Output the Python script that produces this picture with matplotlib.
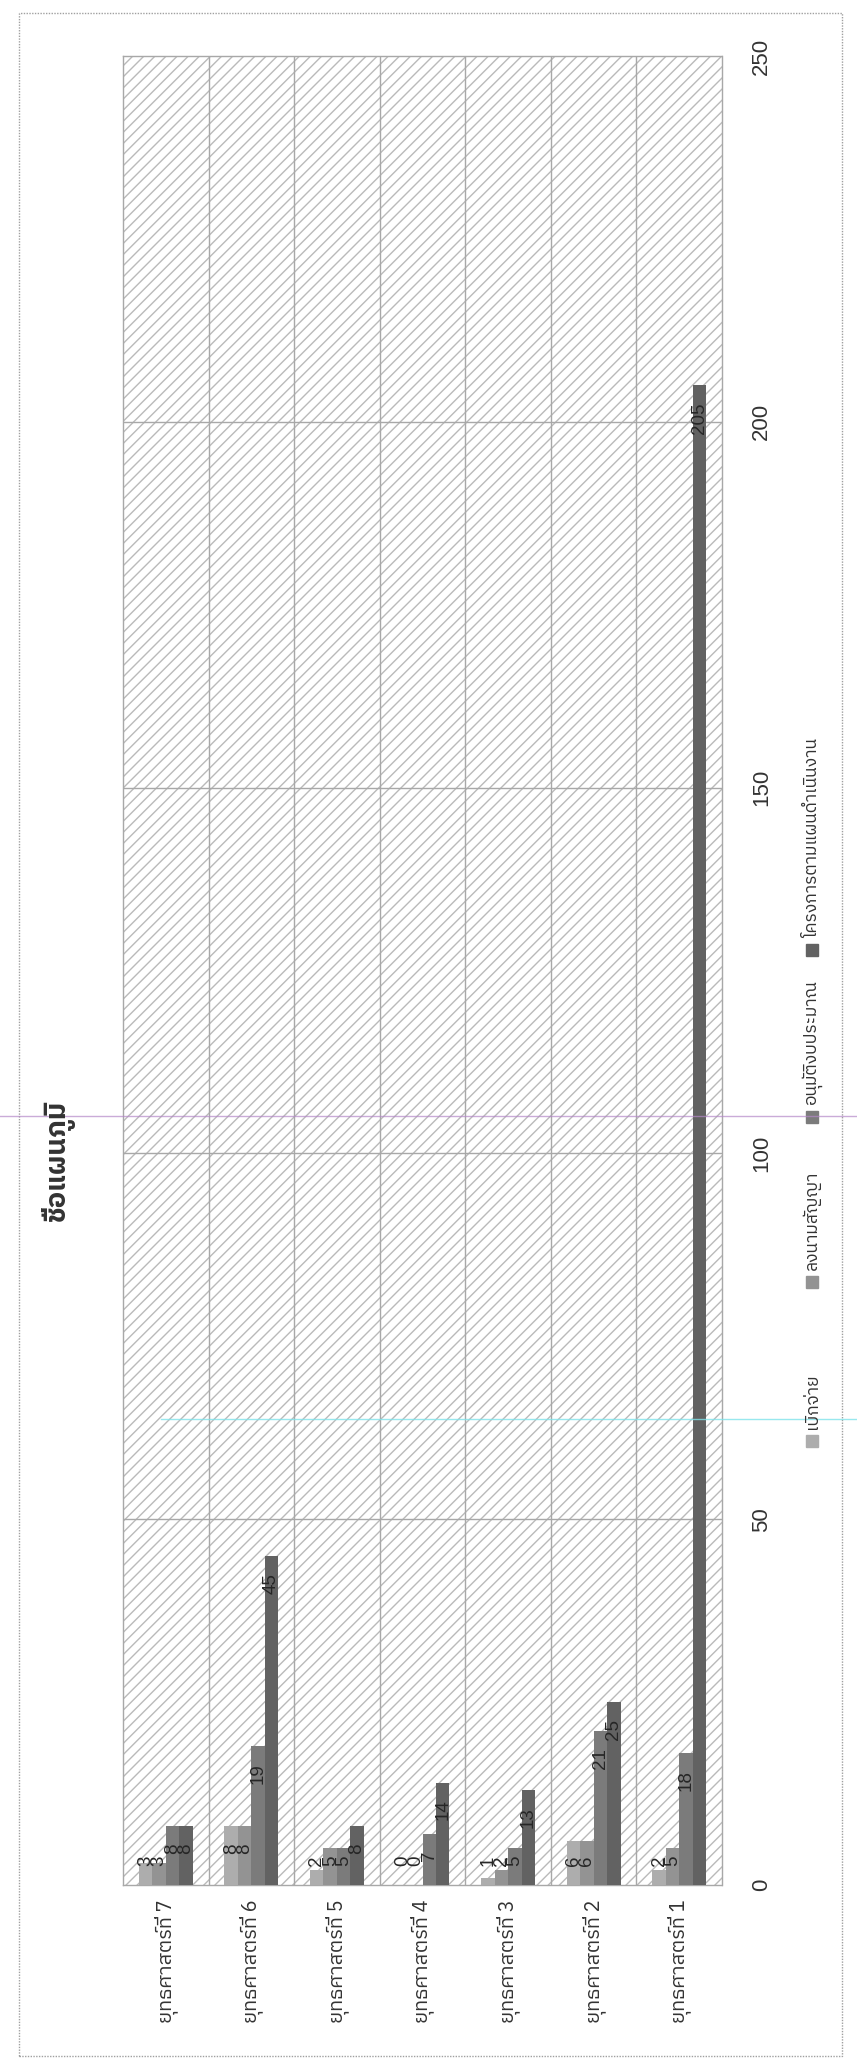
import matplotlib
matplotlib.use("Agg")
import matplotlib.pyplot as plt
import numpy as np
from matplotlib import font_manager as fm
from matplotlib.ft2font import FT2Font
from matplotlib.patches import Rectangle
from matplotlib.lines import Line2D

# data
categories = ["ยุทธศาสตร์ที่ 1", "ยุทธศาสตร์ที่ 2", "ยุทธศาสตร์ที่ 3", "ยุทธศาสตร์ที่ 4",
              "ยุทธศาสตร์ที่ 5", "ยุทธศาสตร์ที่ 6", "ยุทธศาสตร์ที่ 7"]
series_names = ["เบิกจ่าย", "ลงนามสัญญา", "อนุมัติงบประมาณ", "โครงการตามแผนดำเนินงาน"]
disbursed = [2, 6, 1, 0, 2, 8, 3]
signed = [5, 6, 2, 0, 5, 8, 3]
approved = [18, 21, 5, 7, 5, 19, 8]
planned = [205, 25, 13, 14, 8, 45, 8]
value_ticks = [0, 50, 100, 150, 200, 250]
title = "ชื่อแผนภูมิ"

bar_colors = ["#adadad", "#939393", "#7b7b7b", "#626262"]


def find_thai_family():
    found = []
    for f in fm.fontManager.ttflist:
        try:
            cmap = FT2Font(f.fname).get_charmap()
        except Exception:
            continue
        if 0x0E01 in cmap and 0x0E38 in cmap:
            found.append(f.name)
    for name in found:
        if "Thai" in name:
            return name
    return found[0] if found else None


thai = find_thai_family()
thai_fam = [thai, "DejaVu Sans"] if thai else ["DejaVu Sans"]
num_fam = ["Liberation Sans Narrow", "Liberation Sans", "DejaVu Sans"]

W, H = 857, 2064


def fx(px):
    return px / W


def fy(py):
    return 1 - py / H


plt.rcParams["hatch.linewidth"] = 1.0
fig = plt.figure(figsize=(W / 100, H / 100), dpi=100)

# chart area border
fig.add_artist(Rectangle((fx(19), fy(2056)), fx(842) - fx(19), fy(13) - fy(2056),
                         transform=fig.transFigure, fill=False, ec="#a0a0a0",
                         lw=1, ls=(0, (1, 1))))

ax_left, ax_right, ax_top, ax_bottom = 123, 722, 56, 1885
ax = fig.add_axes([fx(ax_left), fy(ax_bottom), fx(ax_right) - fx(ax_left),
                   fy(ax_top) - fy(ax_bottom)])
ax.set_facecolor("white")
ax.add_patch(Rectangle((0, 0), 1, 1, transform=ax.transAxes, facecolor="white",
                       hatch="///", edgecolor="#bababa", lw=0, zorder=0))

n = len(categories)
x = np.arange(n)
order = list(range(n))[::-1]          # category 7 on the left, 1 on the right
all_series = [disbursed, signed, approved, planned]
bw = 0.157
offsets = (np.arange(4) - 1.5) * bw

ax.set_xlim(-0.5, n - 0.5)
ax.set_ylim(0, 250)
px_per_unit = (ax_bottom - ax_top) / 250

for s, vals in enumerate(all_series):
    v = [vals[i] for i in order]
    ax.bar(x + offsets[s], v, width=bw, color=bar_colors[s], zorder=3, lw=0)
    for xi, val in zip(x + offsets[s], v):
        top = max(val - 17 / px_per_unit, 29 / px_per_unit)
        ax.text(xi, top, str(val), rotation=90, ha="center", va="top",
                fontsize=13.5, family=num_fam, color="#262626", zorder=4)

# gridlines
for b in np.arange(0.5, n - 0.5, 1):
    ax.axvline(b, color="#a8a8a8", lw=1, zorder=1)
for t in value_ticks[1:-1]:
    ax.axhline(t, color="#a8a8a8", lw=1, zorder=1)

for sp in ax.spines.values():
    sp.set_color("#a8a8a8")
    sp.set_linewidth(1)
    sp.set_linestyle((0, (1, 1)))

ax.set_yticks(value_ticks)
ax.set_yticklabels([str(t) for t in value_ticks], rotation=90, va="center",
                   fontsize=16, family=["Liberation Sans", "DejaVu Sans"], color="#333333")
ax.yaxis.tick_right()
ax.tick_params(axis="y", length=0, pad=21)

ax.set_xticks(x)
ax.set_xticklabels([categories[i] for i in order], rotation=90, ha="center", va="top",
                   fontsize=14.5, family=thai_fam, color="#333333")
ax.tick_params(axis="x", length=0, pad=10)

# title
fig.text(fx(58), fy(1160), title, rotation=90, ha="center", va="center",
         fontsize=20, fontweight="bold", family=thai_fam, color="#333333")

# legend
legend_marker_y = [1441, 1282, 1117, 950]
for s, name in enumerate(series_names):
    ym = legend_marker_y[s]
    fig.add_artist(Rectangle((fx(806), fy(ym + 6)), fx(12), 12 / H,
                             transform=fig.transFigure, color=bar_colors[s]))
    fig.text(fx(812), fy(ym - 12), name, rotation=90, ha="center", va="bottom",
             fontsize=12.5, family=thai_fam, color="#333333")

# faint scan lines on the source page
fig.add_artist(Line2D([0, 1], [fy(1116), fy(1116)], transform=fig.transFigure,
                      color="#b488c8", lw=1, alpha=0.7))
fig.add_artist(Line2D([fx(161), 1], [fy(1419), fy(1419)], transform=fig.transFigure,
                      color="#7fe3ea", lw=1, alpha=0.8))

fig.savefig("out.png", dpi=100)
